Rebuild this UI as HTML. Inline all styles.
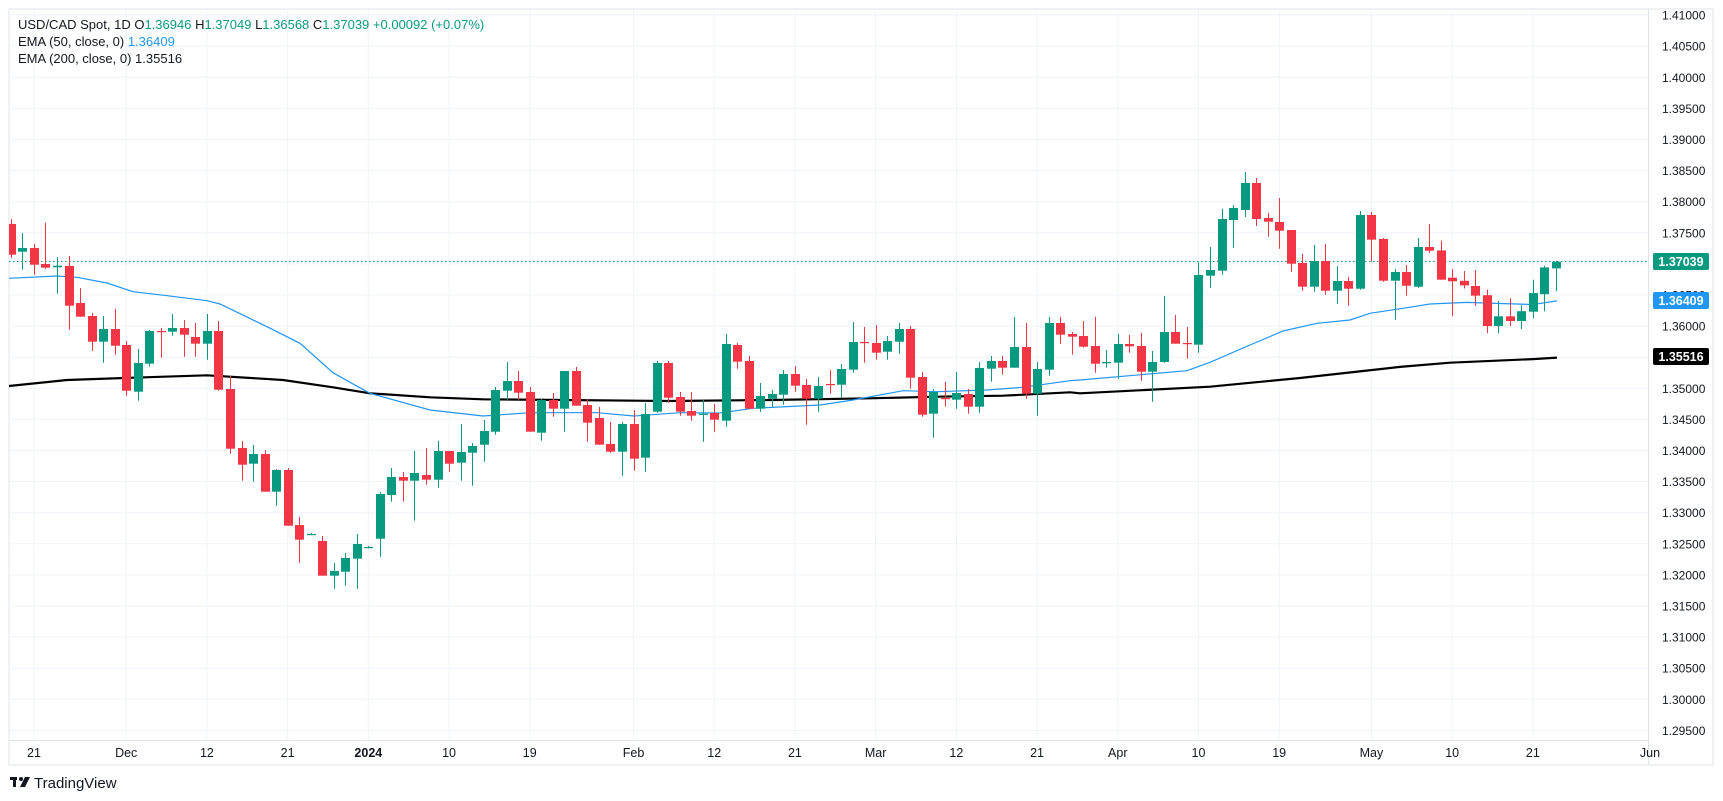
<!DOCTYPE html>
<html><head><meta charset="utf-8"><style>
html,body{margin:0;padding:0;background:#fff;width:1723px;height:801px;overflow:hidden}
svg{position:absolute;left:0;top:0}
text{font-family:"Liberation Sans",sans-serif}
</style></head><body>
<svg id="c" width="1723" height="801" xmlns="http://www.w3.org/2000/svg">
<rect x="9" y="9" width="1704" height="756" fill="#fff" stroke="#e0e3eb" stroke-width="1"/>
<g id="grid" stroke="#f0f3fa" stroke-width="1"></g>
<line x1="1648.5" y1="9" x2="1648.5" y2="765" stroke="#e0e3eb"/>
<line x1="9" y1="740.5" x2="1648" y2="740.5" stroke="#e0e3eb"/>
<g id="ema"></g>
<line x1="9" y1="261.5" x2="1648" y2="261.5" stroke="#089981" stroke-width="1" stroke-dasharray="1.5,2.5"/>
<g id="candles"></g>
<g id="ylab" font-size="12" fill="#131722"></g>
<g id="xlab" font-size="12.5" fill="#131722" text-anchor="middle"></g>
<rect x="1653" y="253" width="56" height="17" rx="2" fill="#089981"/>
<text x="1681" y="266" font-size="12.5" font-weight="bold" fill="#fff" text-anchor="middle">1.37039</text>
<rect x="1653" y="292" width="56" height="17" rx="2" fill="#2196f3"/>
<text x="1681" y="305" font-size="12.5" font-weight="bold" fill="#fff" text-anchor="middle">1.36409</text>
<rect x="1653" y="348" width="56" height="17" rx="2" fill="#000"/>
<text x="1681" y="361" font-size="12.5" font-weight="bold" fill="#fff" text-anchor="middle">1.35516</text>
<text x="18" y="29" font-size="13" fill="#131722">USD/CAD Spot, 1D  <tspan>O</tspan><tspan fill="#089981">1.36946</tspan>  H<tspan fill="#089981">1.37049</tspan>  L<tspan fill="#089981">1.36568</tspan>  C<tspan fill="#089981">1.37039 +0.00092 (+0.07%)</tspan></text>
<text x="18" y="46" font-size="13" fill="#131722">EMA (50, close, 0)  <tspan fill="#2196f3">1.36409</tspan></text>
<text x="18" y="63" font-size="13" fill="#131722">EMA (200, close, 0)  1.35516</text>
<g transform="translate(10,777)"><rect x="0" y="0" width="7" height="3" fill="#131722"/><rect x="3" y="0" width="3" height="10" fill="#131722"/><circle cx="11" cy="2" r="2" fill="#131722"/><path d="M15 0 L20 0 L15 10 L10 10 Z" fill="#131722"/></g>
<text x="34" y="788" font-size="15" fill="#131722">TradingView</text>
</svg>
<script>
var NS="http://www.w3.org/2000/svg";
function el(t,a,p){var e=document.createElementNS(NS,t);for(var k in a)e.setAttribute(k,a[k]);p.appendChild(e);return e;}
var g=document.getElementById('grid'),yl=document.getElementById('ylab'),xl=document.getElementById('xlab');
function Y(p){return 263.9-(p-1.37)*6220;}
for(var i=0;i<=23;i++){var p=1.41-i*0.005,y=Y(p);
 el('line',{x1:9,y1:y,x2:1648,y2:y},g);
 var t=el('text',{x:1662,y:y+4.5},yl);t.textContent=p.toFixed(5);}
var X=function(i){return 10.9+i*11.53;};
var labs=[[2,'21'],[10,'Dec'],[17,'12'],[24,'21'],[31,'2024'],[38,'10'],[45,'19'],[54,'Feb'],[61,'12'],[68,'21'],[75,'Mar'],[82,'12'],[89,'21'],[96,'Apr'],[103,'10'],[110,'19'],[118,'May'],[125,'10'],[132,'21']];
labs.forEach(function(l){var x=X(l[0]);el('line',{x1:x,y1:9,x2:x,y2:740},g);
 var t=el('text',{x:x,y:757},xl);t.textContent=l[1];if(l[1]=='2024')t.setAttribute('font-weight','bold');});
var tj=el('text',{x:1650,y:757},xl);tj.textContent='Jun';
var D=[[224,219,257.7,254.7],[251.7,233,269.7,248],[248,244,274.7,264.7],[264,222.7,268.7,267.7],[267.3,257,293.7,265.7],[266,256,329.7,305.7],[303,288,316.7,316.7],[316,313,351,341.7],[341.7,316,362.7,329],[329,309,354.7,345.7],
[345,341,395.7,390.7],[391.7,349,400.7,363],[363.7,330,366.7,331],[331,328,357.7,332],[331.7,314,335.7,328],[328,320,356.7,334.7],[337,323,356.7,343.7],[343.7,314,359.7,331],[331,321,390.7,389.7],[389,375.7,453.7,448.7],
[448,441,480.7,464.7],[463.7,445,481.7,454],[454,450,491.7,491.7],[491.7,469,505.7,470],[470,468,525.7,525.7],[525,517,562.7,539.7],[534.5,533,535,534],[541,536,575.7,575.7],[575.7,563,588.7,571],[571.7,553,585.7,558],
[558.7,534,588.7,544],[548,546,548.5,547],[538.7,492,556.7,494],[495,468,501.7,477],[477,472,501.7,480.7],[480.7,451,520.7,473],[475,448,484.7,479.7],[479.7,441,487.7,451],[451,451,471.7,463.7],[462.7,424,480.7,452],
[452.7,443,485.7,446],[444.7,420,461.7,431],[431.7,387,434.7,390],[390.7,362,399.7,381],[381,371,399.7,392.7],[392,387,431.7,431.7],[432.7,399,440.7,400],[400,393,416.7,408.7],[408.7,371,431.7,371],[371,367,405.7,405.7],
[405,399,441.7,422.7],[418,407,444.7,444.7],[444,422,452.7,451.7],[451.7,422,475.7,424],[424,410,470.7,458.7],[457.7,403,471.7,414],[411.7,361,412.7,363],[363,361,402.7,397.7],[397,392,415.7,411.7],[411,392,420.7,415.7],
[414.7,400,441.7,413.7],[413,404,431.7,419.7],[420.7,334,426.7,344],[345,343,368.7,361.7],[361,356,408.7,408.7],[408.7,383,411.7,396],[398.7,390,407.7,394],[394.7,370,404.7,374],[374,366,391.7,385.7],[385,379,424.7,398.7],
[398.7,377,411.7,386],[384,370,393.7,385],[384.7,364,397.7,369],[369.7,322,372.7,342],[342,327,362.7,343],[343,325,359.7,352.7],[351.7,336,359.7,341],[341.7,323,353.7,329],[329,326,388.7,377.7],[377,372,416.7,414.7],
[413.7,389,437.7,392],[398,382,406.7,399],[399.7,372,408.7,393],[394,389,413.7,406.7],[406.7,362,412.7,368],[368.7,356,381.7,361],[361,356,374.7,367.7],[367.7,317,367.7,347],[347,323,398.7,393.7],[393.7,362,415.7,369],
[369.7,317,375.7,323],[323,317,343.7,334.7],[334,332,354.7,336.7],[336,321,347.7,346.7],[346,316.7,372.7,363.7],[363.3,350,367.7,362],[362.7,334,378.7,344],[344,335,352.7,346.3],[346,333,380.7,371.7],[371.7,351,401.7,362],
[362,296,362.7,332],[332,315,343.7,343.7],[343,327,358.7,344],[344.7,262,352.7,275],[275.7,247,287.7,270],[270.7,209,274.7,219],[220,205,247.7,208],[210,172,217,183],[183,178,226,219],[218,213,236.7,221.7],
[222,198,248.7,230.7],[230,230,271.7,263.7],[263,254,290.7,286.7],[286.7,245,291.7,261],[261,244,294.7,290.7],[290.7,266,303.7,281],[281,277,305.7,288.7],[288.7,211,289.7,215],[215,212,261.7,239.7],[239,238,281.7,280.7],
[280.7,269,319.7,272],[272,265,295.7,285.7],[286.7,238,287.7,247],[247,224,252.7,250.7],[250.4,240.6,279.7,279.7],[277.7,269,316.3,281.3],[280.8,271,288.5,285.4],[286,270,306,295.7],[295.2,289.5,333.3,326.1],[326.1,300.9,333.3,316.3],
[316.3,298.3,326.1,321],[321,305,329,311.2],[311.7,279.7,318.4,293.1],[294.2,265.8,311.2,267.4],[268.4,260.7,291.1,261.7]];
var cg=document.getElementById('candles');
D.forEach(function(d,i){var x=X(i),up=d[3]<d[0],col=up?'#089981':'#f23645';
 var top=Math.min(d[0],d[3]),h=Math.max(Math.abs(d[0]-d[3]),1.2);
 var xc=Math.round(x)+0.5;
 el('line',{x1:xc,y1:d[1],x2:xc,y2:d[2],stroke:col,'stroke-width':1},cg);
 var l=Math.max(9,Math.round(x)-4),r=Math.round(x)+5;
 el('rect',{x:l,y:top,width:r-l,height:h,fill:col},cg);});
var e50=[[9,278.3],[57,276],[77,277.3],[107,283],[133,291.7],[167,295.7],[207,300.7],[220,304],[267,326.7],[300,343.3],[333,372.7],[350,382.3],[370,393.3],[430,410],[483,416],[530,412.7],[597,412.7],[634,416],[680,412.7],[720,413],[753,408.3],[820,405],[853,400],[903,390.7],[937,391.7],[987,390],[1023,387.3],[1070,380.7],[1080,380],[1187,370.7],[1210,362.3],[1250,345],[1283,331],[1317,323.3],[1350,320],[1370,313.3],[1403,308.3],[1430,304],[1467,302.4],[1500,303.5],[1533,304.5],[1557,300.9]];
var e200=[[9,386],[67,380],[133,377.7],[207,375.3],[283,380],[333,387.3],[370,393.3],[430,397.3],[483,399.3],[563,400],[670,401],[770,400],[870,398.3],[937,396.7],[1003,395.7],[1070,392.3],[1080,393.3],[1210,386.7],[1300,378],[1400,366.9],[1450,362.7],[1533,359.1],[1557,357.6]];
var eg=document.getElementById('ema');
el('polyline',{points:e200.map(function(p){return p.join(',')}).join(' '),fill:'none',stroke:'#000','stroke-width':2.2},eg);
el('polyline',{points:e50.map(function(p){return p.join(',')}).join(' '),fill:'none',stroke:'#2196f3','stroke-width':1.2},eg);
</script>
</body></html>
